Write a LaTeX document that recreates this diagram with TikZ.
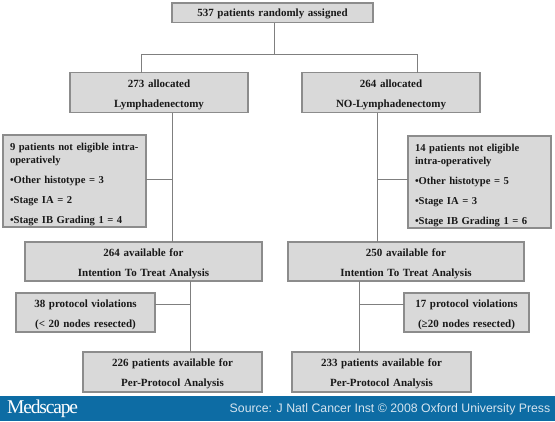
\documentclass[tikz,border=0pt]{standalone}
\usepackage{fontspec}
\setmainfont{Liberation Serif}
\newfontfamily\bannerfont{Liberation Sans}
\newfontfamily\logofont[LetterSpace=-6]{Liberation Serif}
\usetikzlibrary{positioning}
\definecolor{boxgray}{HTML}{D9D9D9}
\definecolor{edgegray}{HTML}{8C8C8C}
\definecolor{linegray}{HTML}{7F7F7F}
\definecolor{bannerblue}{HTML}{0D6CA4}
\definecolor{sourcetext}{HTML}{D5E4EF}

\begin{document}
\begin{tikzpicture}[x=1pt,y=1pt,
    every node/.style={font=\fontsize{11}{20}\selectfont\bfseries},
    flowbox/.style={rectangle,draw=edgegray,line width=1.3pt,fill=boxgray,align=center,inner sep=0pt,outer sep=0pt,text=black!90},
    pairbox/.style={flowbox,minimum width=#1,text width=#1,execute at begin node={\rule{0pt}{12pt}}},
    listbox/.style={flowbox,font=\fontsize{10.6}{20}\selectfont\bfseries,align=left,inner xsep=7pt,text width=129pt,minimum height=92pt,
      execute at begin node={\rule{0pt}{14pt}}},
    link/.style={draw=linegray,line width=1pt}]
  \path[use as bounding box] (0,0) rectangle (555,-421);
  \fill[bannerblue] (0,-396) rectangle (555,-421);
  \node[inner sep=0pt,text=white,anchor=west] (logo) at (7,-409) {\logofont\fontsize{19.5}{20}\selectfont\mdseries Medscape};
  \node[inner sep=0pt,text=sourcetext,anchor=east] (source) at (550.5,-409) {\bannerfont\fontsize{12.3}{14}\selectfont\mdseries Source: J Natl Cancer Inst © 2008 Oxford University Press};

  \node[flowbox,minimum width=201pt,text width=201pt,minimum height=19.5pt,execute at begin node={\rule{0pt}{10pt}}] (top) at (272.5,-12.75) {537 patients randomly assigned};
  \node[pairbox=178pt,minimum height=40pt,below=50pt of top,xshift=-113.5pt] (allocL) {273 allocated\\Lymphadenectomy};
  \node[pairbox=178pt,minimum height=40pt,below=50pt of top,xshift=118.5pt] (allocR) {264 allocated\\NO-Lymphadenectomy};
  \node[listbox,below=22.5pt of allocL,xshift=-84.5pt] (eligL) {9 patients not eligible intra-\\[-7pt]operatively\\•Other histotype = 3\\•Stage IA = 2\\•Stage IB Grading 1 = 4};
  \node[listbox,below=23.5pt of allocR,xshift=88.5pt] (eligR) {14 patients not eligible\\[-7pt]intra-operatively\\•Other histotype = 5\\•Stage IA = 3\\•Stage IB Grading 1 = 6};
  \node[pairbox=237pt,minimum height=39pt,below=129.5pt of allocL,xshift=-15.5pt] (ittL) {264 available for\\Intention To Treat Analysis};
  \node[pairbox=236pt,minimum height=39pt,below=129.5pt of allocR,xshift=15pt] (ittR) {250 available for\\Intention To Treat Analysis};
  \node[pairbox=139pt,minimum height=39pt,below=12pt of ittL,xshift=-58pt] (protL) {38 protocol violations\\(< 20 nodes resected)};
  \node[pairbox=125pt,minimum height=39pt,below=12pt of ittR,xshift=60.5pt] (protR) {17 protocol violations\\(≥20 nodes resected)};
  \node[pairbox=179pt,minimum height=40pt,below=71pt of ittL,xshift=29pt] (ppL) {226 patients available for\\Per-Protocol Analysis};
  \node[pairbox=179pt,minimum height=40pt,below=71pt of ittR,xshift=-24.5pt] (ppR) {233 patients available for\\Per-Protocol Analysis};

  % junctions off the box centres
  \coordinate (split) at ([xshift=1.5pt,yshift=-32pt]top.south);
  \coordinate (armL) at ([xshift=-18pt]allocL.north);
  \coordinate (armR) at ([xshift=26pt]allocR.north);
  \coordinate (spineL) at ([xshift=13pt]allocL.south);
  \coordinate (spineR) at ([xshift=-14pt]allocR.south);
  \coordinate (stemL) at ([xshift=46.5pt]ittL.south);
  \coordinate (stemR) at ([xshift=-47pt]ittR.south);

  \draw[link] (split |- top.south) -- (split);
  \draw[link] (armL) |- (split) -| (armR);
  \draw[link] (spineL) -- (spineL |- ittL.north);
  \draw[link] (spineR) -- (spineR |- ittR.north);
  \draw[link] ([yshift=2pt]eligL.east) -- ([yshift=2pt]eligL.east -| spineL);
  \draw[link] ([yshift=3pt]eligR.west) -- ([yshift=3pt]eligR.west -| spineR);
  \draw[link] (stemL) -- (stemL |- ppL.north);
  \draw[link] (stemR) -- (stemR |- ppR.north);
  \draw[link] ([yshift=8.5pt]protL.east) -- ([yshift=8.5pt]protL.east -| stemL);
  \draw[link] ([yshift=8.5pt]protR.west) -- ([yshift=8.5pt]protR.west -| stemR);
\end{tikzpicture}
\end{document}
